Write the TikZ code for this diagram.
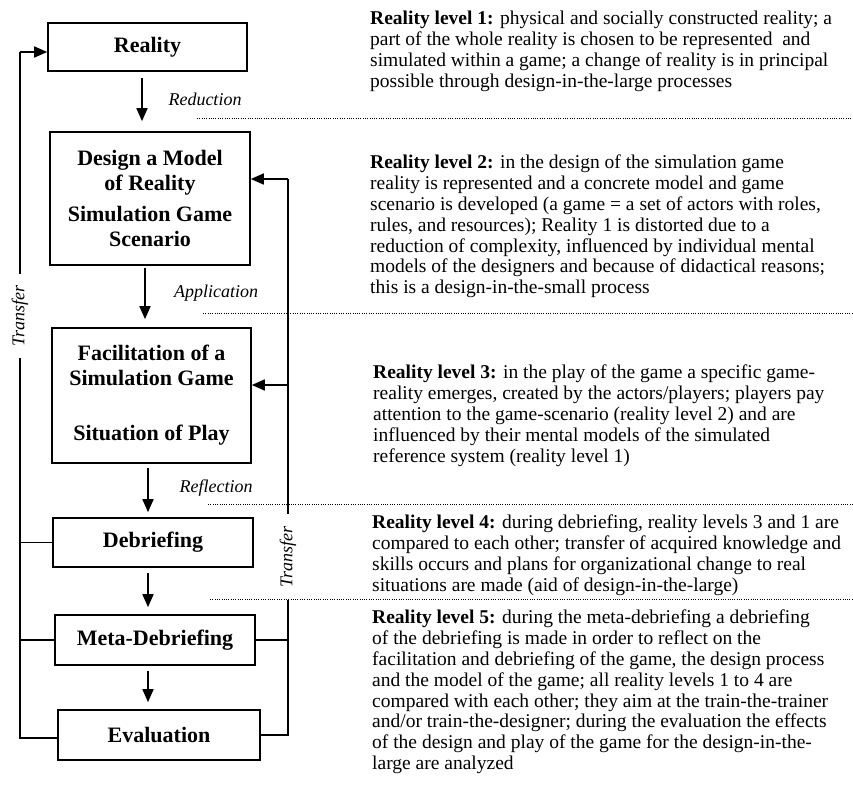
\documentclass[tikz,border=0pt]{standalone}
\usepackage{fontspec}
\setmainfont{Liberation Serif}
\usetikzlibrary{arrows.meta}
\newcommand\myboxfont{\fontsize{22}{25}\selectfont\bfseries}
\newcommand\mylabfont{\fontsize{18}{20}\selectfont\itshape}
\newcommand\mybodyfont{\fontsize{19.5}{20.8}\selectfont}
\begin{document}
\begin{tikzpicture}[x=1pt,y=-1pt,
  box/.style={draw, line width=1.6pt, inner sep=0pt, align=center, font=\myboxfont},
  arr/.style={line width=1.6pt, -{Triangle[length=13pt,width=11pt]}},
  conn/.style={line width=1.6pt},
  lab/.style={font=\mylabfont, inner sep=0pt},
  para/.style={anchor=north west, align=left, inner sep=0pt, font=\mybodyfont},
  sepline/.style={line width=0.9pt, dash pattern=on 1pt off 1.3pt}]
\useasboundingbox (0,0) rectangle (853,791);
\fill[white] (0,0) rectangle (853,791);

% boxes
\node[box, minimum width=199pt, minimum height=48pt] (reality) at (147.5,47) {Reality};
\node[box, minimum width=200pt, minimum height=133pt] (design) at (150,198.5)
  {Design a Model\\of Reality\\[6pt]Simulation Game\\Scenario};
\node[box, minimum width=199pt, minimum height=135pt] (facil) at (151.5,395.5)
  {Facilitation of a\\Simulation Game\\[30pt]Situation of Play};
\node[box, minimum width=200pt, minimum height=49pt] (deb) at (153,542.5) {Debriefing};
\node[box, minimum width=200pt, minimum height=50pt] (meta) at (155,640) {Meta-Debriefing};
\node[box, minimum width=202pt, minimum height=50pt] (eval) at (159,735) {Evaluation};

% down arrows
\draw[arr, shorten <=6pt, shorten >=10pt] ([xshift=-5.5pt]reality.south) -- ([xshift=-8pt]design.north);
\draw[arr, shorten <=2pt, shorten >=8pt] ([xshift=-5pt]design.south) -- ([xshift=-6.5pt]facil.north);
\draw[arr, shorten <=4pt, shorten >=5pt] ([xshift=-3.5pt]facil.south) -- ([xshift=-5pt]deb.north);
\draw[arr, shorten <=5pt, shorten >=7pt] ([xshift=-5pt]deb.south) -- ([xshift=-7pt]meta.north);
\draw[arr, shorten <=5pt, shorten >=7pt] ([xshift=-7pt]meta.south) -- ([xshift=-11pt]eval.north);

% arrow labels
\node[lab] (red) at (205,99) {Reduction};
\node[lab] (app) at (216,293) {Application};
\node[lab] (refl) at (216,488) {Reflection};

% left feedback loop
\node[lab, rotate=90, inner xsep=11pt] (tL) at (20,316) {Transfer};
\coordinate (lt) at (20,52);
\coordinate (lb) at (20,738);
\draw[arr] (lt) -- (lt -| reality.west);
\draw[conn] (lt) -- (tL.east);
\draw[conn] (tL.west) -- (lb) -- (lb -| eval.west);
\draw[conn] (deb.west) -- (deb.west -| lt);
\draw[conn] (meta.west) -- (meta.west -| lt);

% right feedback loop
\node[lab, rotate=90, inner xsep=12pt] (tR) at (288,557) {Transfer};
\coordinate (rt) at (288,179);
\coordinate (rf) at (288,385);
\coordinate (rb) at (288,735);
\draw[arr] (rt) -- (rt -| design.east);
\draw[arr] (rf) -- (rf -| facil.east);
\draw[conn] (rt) -- (tR.east);
\draw[conn] (tR.west) -- (rb) -- (eval.east);
\draw[conn] (meta.east) -- (meta.east -| rb);

% dotted separators
\draw[sepline] (197,118) -- (853,118);
\draw[sepline] (203,313) -- (853,313);
\draw[sepline] (208,504) -- (853,504);
\draw[sepline] (210,599) -- (853,599);

% explanatory paragraphs
\node[para] (p1) at (370,11) {\textbf{Reality level 1:} physical and socially constructed reality; a\\
part of the whole reality is chosen to be represented\ \ and\\
simulated within a game; a change of reality is in principal\\
possible through design-in-the-large processes};
\node[para] (p2) at (370,155) {\textbf{Reality level 2:} in the design of the simulation game\\
reality is represented and a concrete model and game\\
scenario is developed (a game = a set of actors with roles,\\
rules, and resources); Reality 1 is distorted due to a\\
reduction of complexity, influenced by individual mental\\
models of the designers and because of didactical reasons;\\
this is a design-in-the-small process};
\node[para] (p3) at (373,365) {\textbf{Reality level 3:} in the play of the game a specific game-\\
reality emerges, created by the actors/players; players pay\\
attention to the game-scenario (reality level 2) and are\\
influenced by their mental models of the simulated\\
reference system (reality level 1)};
\node[para] (p4) at (372,515) {\textbf{Reality level 4:} during debriefing, reality levels 3 and 1 are\\
compared to each other; transfer of acquired knowledge and\\
skills occurs and plans for organizational change to real\\
situations are made (aid of design-in-the-large)};
\node[para] (p5) at (372,610) {\textbf{Reality level 5:} during the meta-debriefing a debriefing\\
of the debriefing is made in order to reflect on the\\
facilitation and debriefing of the game, the design process\\
and the model of the game; all reality levels 1 to 4 are\\
compared with each other; they aim at the train-the-trainer\\
and/or train-the-designer; during the evaluation the effects\\
of the design and play of the game for the design-in-the-\\
large are analyzed};
\end{tikzpicture}
\end{document}
